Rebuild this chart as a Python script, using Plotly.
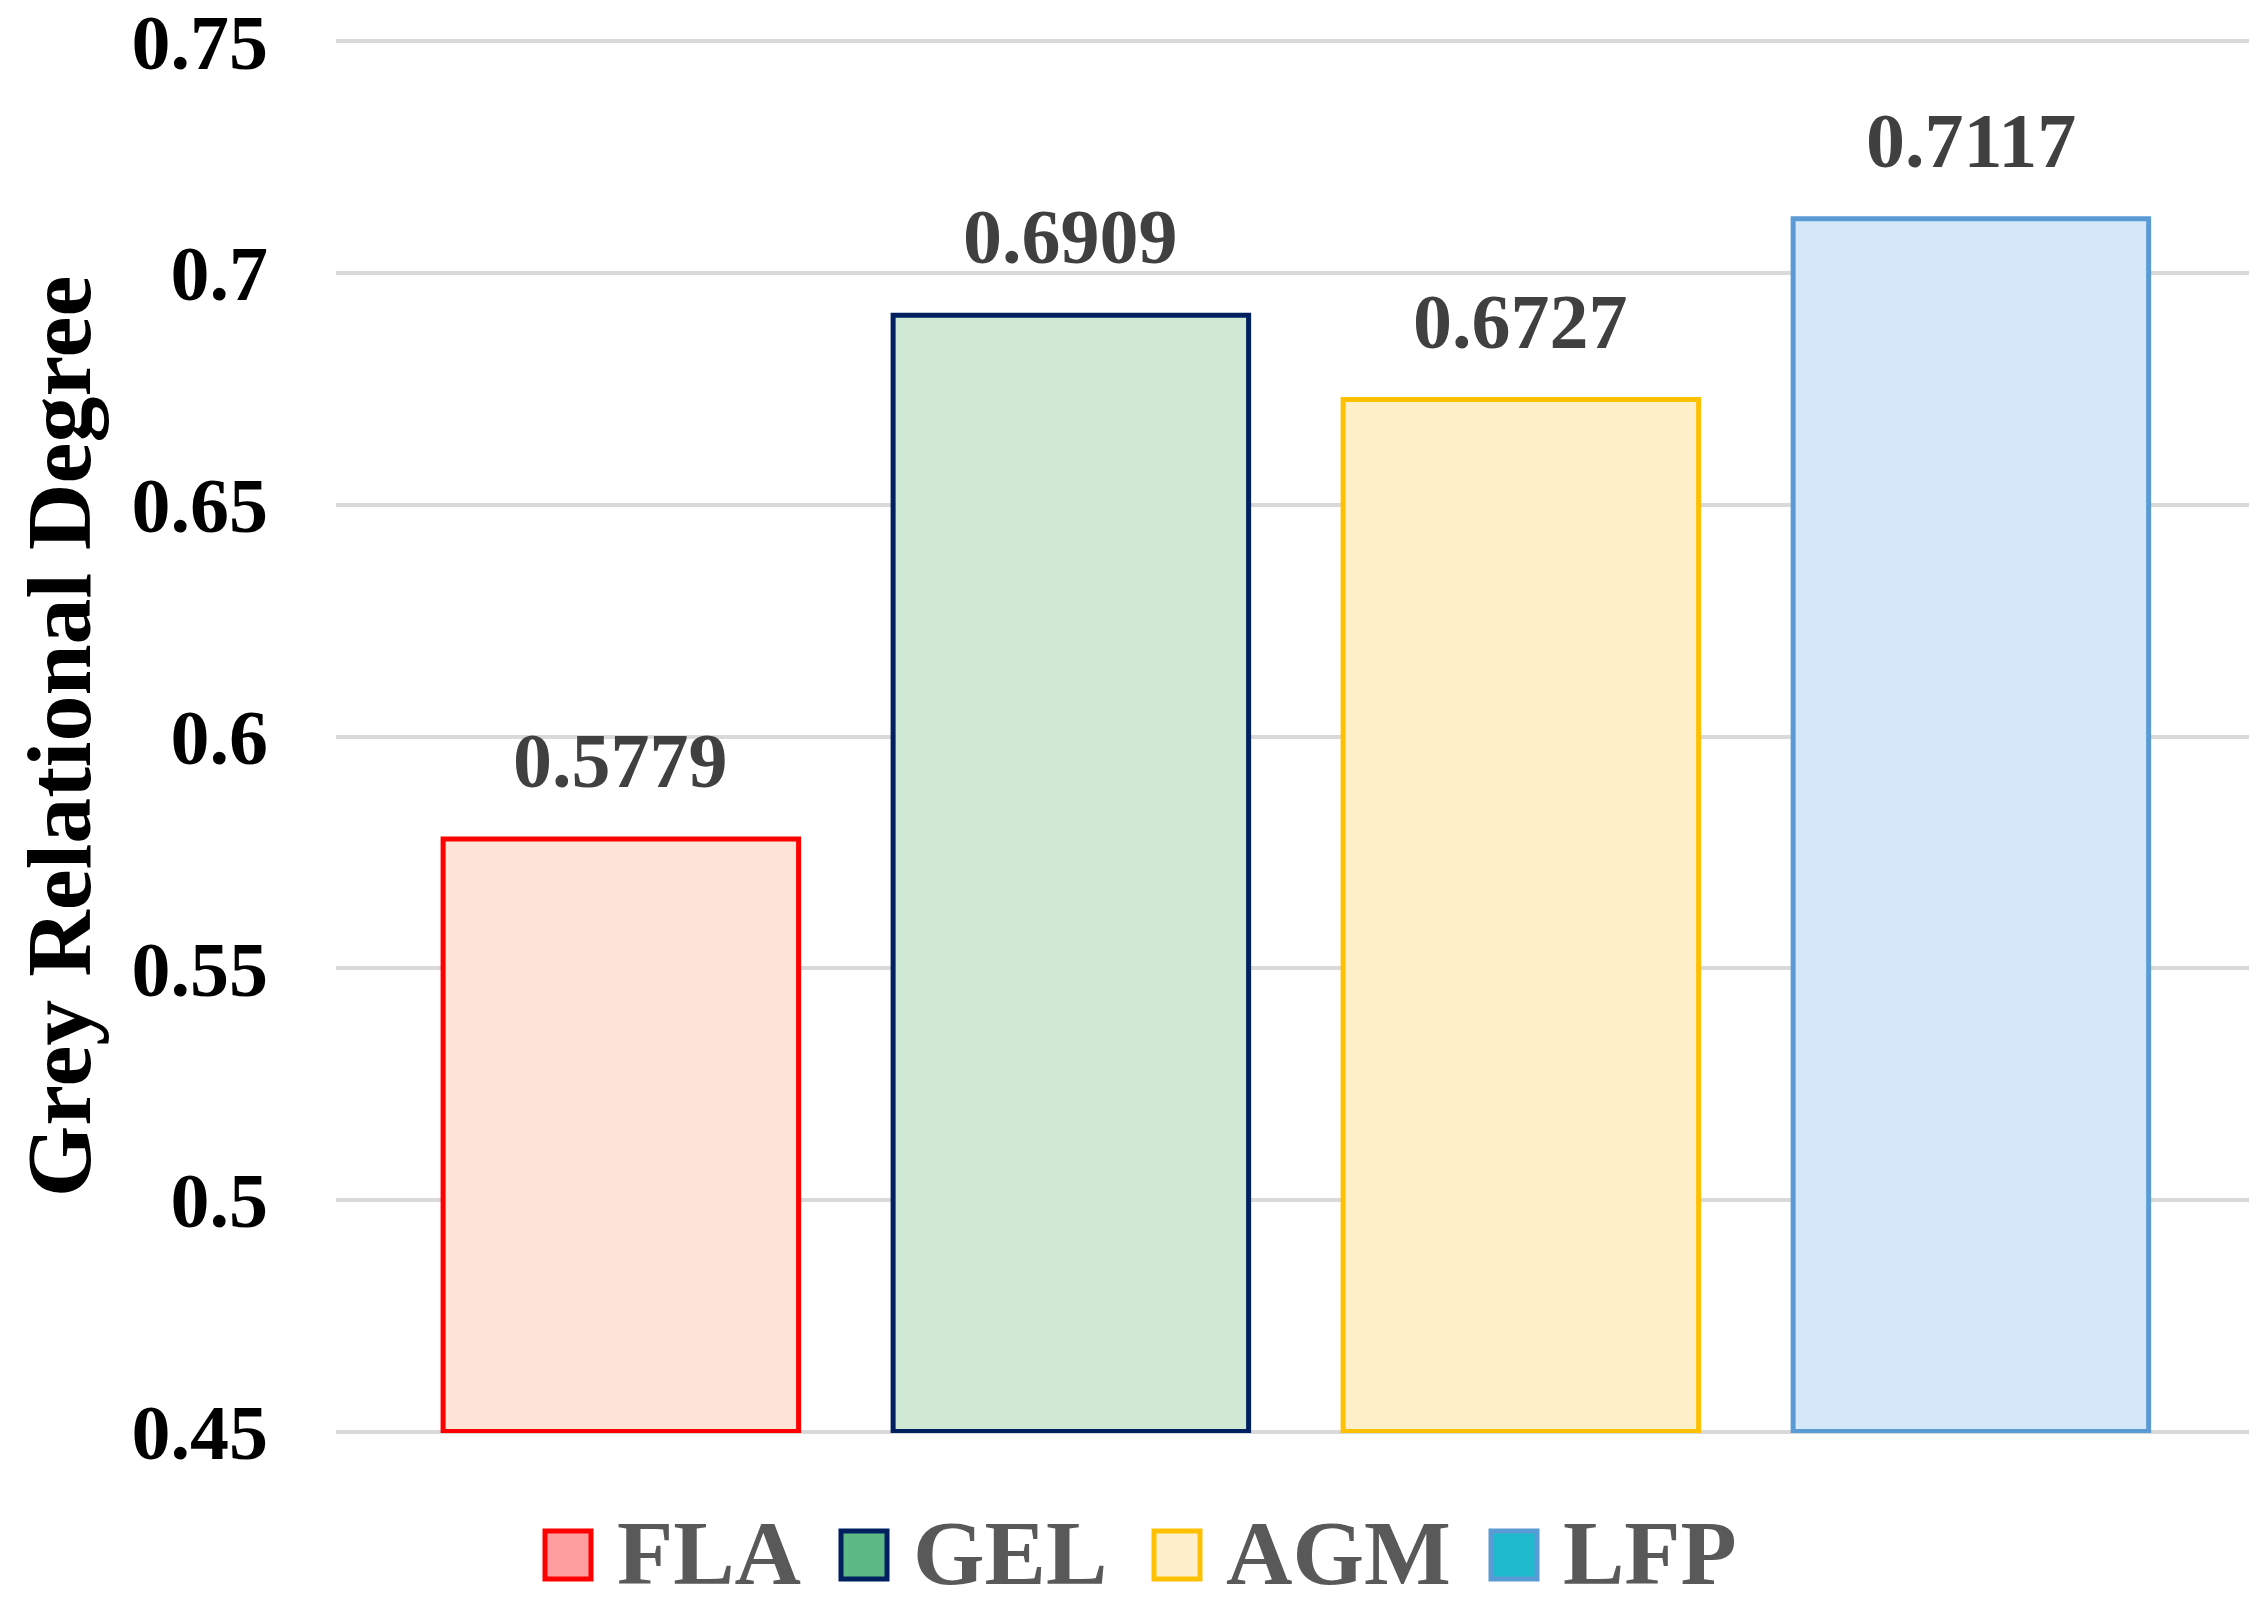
import plotly.graph_objects as go

# data
categories = ["FLA", "GEL", "AGM", "LFP"]
values = [0.5779, 0.6909, 0.6727, 0.7117]
y_ticks = [0.45, 0.5, 0.55, 0.6, 0.65, 0.7, 0.75]
y_base = 0.45

bar_fill = ["#FDE4D6", "#D0E9D4", "#FFF0CA", "#D5E8FA"]
bar_line = ["#FF0000", "#002060", "#FFC000", "#5B9BD5"]
legend_fill = ["#FF9E9E", "#5DBA84", "#FFF0CC", "#1FBACD"]

W, H = 2263, 1607
OFF = 8  # page body margin
ML, MR, MT, MB = 328, 22, 32, 182
PW, PH = W - ML - MR, H - MT - MB
FONT = "Liberation Serif, Times New Roman, serif"


def px_x(p):
    return (p - OFF - ML) / PW


def px_y(p):
    return (H - MB - (p - OFF)) / PH


fig = go.Figure(go.Bar(
    x=categories,
    y=[v - y_base for v in values],
    base=y_base,
    width=0.79,
    marker=dict(color=bar_fill, line=dict(color=bar_line, width=5)),
    showlegend=False,
))

# value labels above bars
for c, v in zip(categories, values):
    fig.add_annotation(x=c, y=v, text=f"<b>{v:.4f}</b>", showarrow=False,
                       yanchor="bottom", yshift=33,
                       font=dict(family=FONT, size=78, color="#404040"))

# legend drawn by hand so the swatches can match the large text
legend_x = [545, 841, 1154, 1491]
for name, fc, lc, lx in zip(categories, legend_fill, bar_line, legend_x):
    fig.add_shape(type="rect", xref="paper", yref="paper",
                  x0=px_x(lx), x1=px_x(lx + 46), y0=px_y(1531), y1=px_y(1579),
                  fillcolor=fc, line=dict(color=lc, width=5))
    fig.add_annotation(xref="paper", yref="paper", x=px_x(lx + 70), y=px_y(1553),
                       xanchor="left", yanchor="middle", showarrow=False,
                       text=f"<b>{name}</b>",
                       font=dict(family=FONT, size=92, color="#595959"))

fig.update_layout(
    width=W, height=H,
    margin=dict(l=ML, r=MR, t=MT, b=MB),
    plot_bgcolor="white", paper_bgcolor="white",
    font=dict(family=FONT, color="black"),
    xaxis=dict(range=[-0.633, 3.618], showticklabels=False, showgrid=False,
               zeroline=False, showline=False, automargin=False),
    yaxis=dict(range=[0.4497, 0.7503], tickvals=y_ticks,
               ticktext=[f"<b>{t:g}</b>" for t in y_ticks],
               tickfont=dict(family=FONT, size=78, color="black"),
               ticklabelstandoff=67, ticklabeloverflow="allow",
               automargin=False,
               showgrid=True, gridcolor="#D9D9D9", gridwidth=4,
               zeroline=False, showline=False,
               title=dict(text="<b>Grey Relational Degree</b>", standoff=30,
                          font=dict(family=FONT, size=92, color="black"))),
)

fig.write_html("out.html")
